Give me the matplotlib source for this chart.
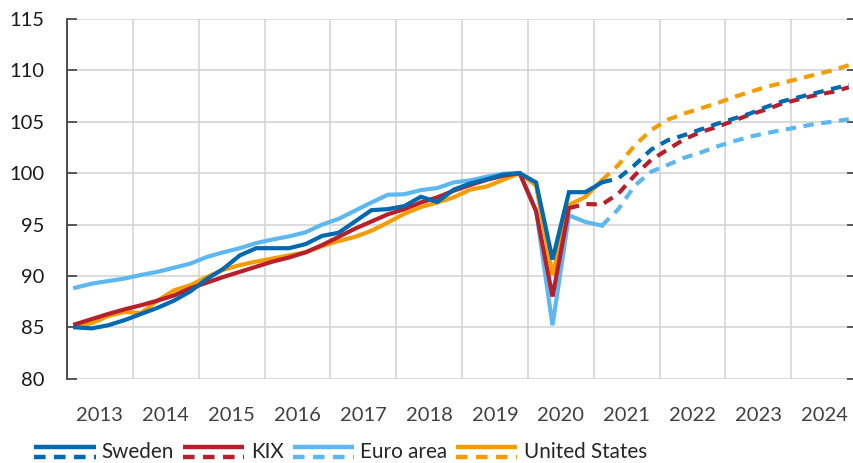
import numpy as np
import matplotlib
matplotlib.use("Agg")
import matplotlib.pyplot as plt
from matplotlib.lines import Line2D
from matplotlib.legend_handler import HandlerBase

plt.rcParams['font.family'] = ['Lato', 'DejaVu Sans']

# quarterly index, 2013Q1 = 0 ... 2024Q4 = 47
years = list(range(2013, 2025))

# outcome series (from 2013Q1)
sweden_hist = [85.0, 84.9, 85.2, 85.7,
               86.3, 86.9, 87.6, 88.5,
               89.7, 90.7, 92.0, 92.7,
               92.7, 92.7, 93.1, 93.9,
               94.2, 95.3, 96.4, 96.5,
               96.8, 97.7, 97.2, 98.4,
               99.0, 99.4, 99.85, 100.0,
               99.1, 91.6, 98.15, 98.15,
               99.1]
kix_hist = [85.3, 85.8, 86.3, 86.75,
            87.15, 87.6, 88.1, 88.8,
            89.35, 89.9, 90.4, 90.9,
            91.4, 91.8, 92.3, 93.0,
            93.8, 94.6, 95.3, 96.0,
            96.5, 97.15, 97.65, 98.3,
            98.85, 99.35, 99.75, 100.0,
            96.3, 88.0, 96.6]
euro_hist = [88.85, 89.25, 89.5, 89.75,
             90.1, 90.4, 90.8, 91.2,
             91.85, 92.3, 92.7, 93.2,
             93.55, 93.85, 94.25, 95.0,
             95.55, 96.35, 97.15, 97.9,
             97.95, 98.35, 98.55, 99.1,
             99.3, 99.65, 99.95, 100.0,
             96.4, 85.2, 95.9, 95.25,
             94.9]
us_hist = [85.1, 85.4, 86.1, 86.5,
           86.4, 87.6, 88.6, 89.1,
           89.9, 90.6, 91.05, 91.4,
           91.7, 92.0, 92.3, 92.9,
           93.4, 93.8, 94.4, 95.2,
           96.05, 96.7, 97.15, 97.65,
           98.4, 98.7, 99.35, 100.0,
           98.8, 90.1, 96.9, 97.7,
           99.3]

# forecasts, starting at the last outcome quarter
sweden_fc = [99.1, 99.5, 100.8, 102.3, 103.2, 103.7, 104.25, 104.8,
             105.3, 105.8, 106.45, 107.0, 107.4, 107.8, 108.2, 108.6]
kix_fc = [96.6, 97.0, 96.95, 98.0, 99.8, 101.3, 102.3, 103.3, 104.0, 104.5,
          105.1, 105.7, 106.2, 106.8, 107.2, 107.6, 107.9, 108.35]
euro_fc = [94.9, 96.5, 98.8, 100.15, 100.8, 101.5, 102.0, 102.6,
           103.1, 103.55, 103.9, 104.2, 104.5, 104.8, 105.0, 105.25]
us_fc = [99.3, 100.8, 102.7, 104.2, 105.2, 105.8, 106.3, 106.8,
         107.4, 107.9, 108.4, 108.8, 109.2, 109.6, 110.0, 110.5]

series = [
    ("Euro area", euro_hist, euro_fc, "#5db7f0"),
    ("United States", us_hist, us_fc, "#f59d00"),
    ("KIX", kix_hist, kix_fc, "#b81f2c"),
    ("Sweden", sweden_hist, sweden_fc, "#0069b0"),
]
legend_order = ["Sweden", "KIX", "Euro area", "United States"]

LW = 3.0
DASH = (2.5, 1.8)


class SolidDashHandler(HandlerBase):
    def create_artists(self, legend, orig_handle, xdescent, ydescent,
                       width, height, fontsize, trans):
        c = orig_handle.get_color()
        x = [-xdescent, width - xdescent]
        top = Line2D(x, [height * 0.78 - ydescent] * 2, color=c, lw=3.2,
                     solid_capstyle='butt', transform=trans)
        bot = Line2D(x, [height * 0.12 - ydescent] * 2, color=c, lw=3.2,
                     dashes=(2.6, 1.9), dash_capstyle='butt', transform=trans)
        return [top, bot]


fig = plt.figure(figsize=(8.54, 4.63), dpi=100)
ax = fig.add_axes([67 / 854, 0.182, 790 / 854, 0.777])

handles = {}
for z, (name, hist, fc, col) in enumerate(series):
    xh = np.arange(len(hist)) + 0.5
    xf = np.arange(len(hist) - 1, len(hist) - 1 + len(fc)) + 0.5
    ln, = ax.plot(xh, hist, color=col, lw=LW, solid_joinstyle='miter',
                  zorder=3 + z)
    ax.plot(xf, fc, color=col, lw=LW, dashes=DASH, dash_capstyle='butt',
            zorder=3 + z)
    handles[name] = ln

ax.set_xlim(0, 48)
ax.set_ylim(80, 115)
ax.set_yticks(np.arange(80, 116, 5))
ax.set_xticks(np.arange(0, 49, 4), minor=False)
ax.set_xticklabels([])
ax.set_xticks(np.arange(2, 48, 4), minor=True)
ax.set_xticklabels([str(y) for y in years], minor=True)

ax.grid(True, which='major', color='#d2d2d2', lw=1.1, zorder=0)
ax.tick_params(axis='x', which='both', length=0, labelsize=14.5,
               labelcolor='#404040', pad=20)
ax.tick_params(axis='y', which='major', direction='in', length=7,
               width=1.2, color='#404040', labelsize=14.5,
               labelcolor='#1a1a1a', pad=16, right=True)

for s in ['top', 'bottom', 'right']:
    ax.spines[s].set_visible(False)
ax.spines['left'].set_color('#404040')
ax.spines['left'].set_linewidth(1.3)

fig.legend([handles[n] for n in legend_order], legend_order,
           handler_map={Line2D: SolidDashHandler()},
           loc='lower left', bbox_to_anchor=(20 / 854, -0.03), ncol=4,
           frameon=False, fontsize=14.9, handlelength=2.95,
           handletextpad=0.3, columnspacing=0.45, borderpad=0.2,
           labelcolor='#262626')

fig.savefig("out.png", dpi=100)
